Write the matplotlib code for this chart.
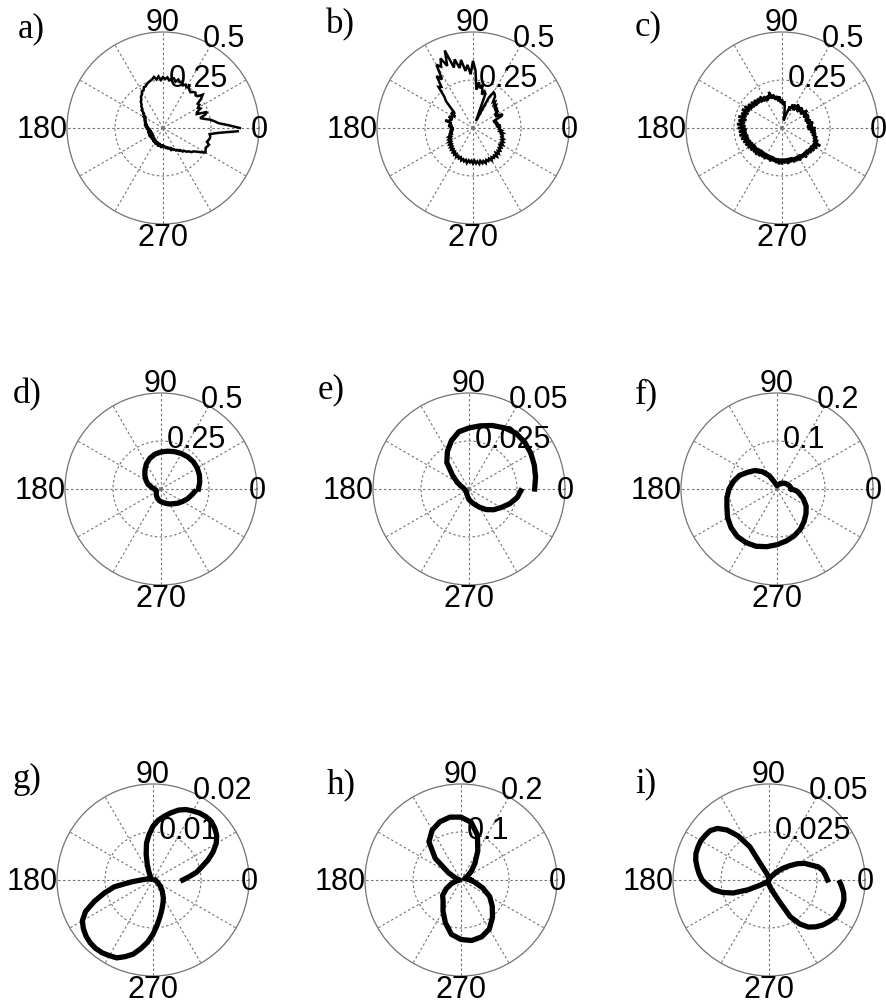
import matplotlib.pyplot as plt
import numpy as np

# Radial response of the nine cases, angles in degrees
theta_fine = np.arange(0, 360, 2.5)

r_a = [0.40, 0.34, 0.29, 0.27, 0.25, 0.22, 0.20, 0.23, 0.245, 0.19, 0.195, 0.22,
       0.21, 0.225, 0.22, 0.25, 0.27, 0.245, 0.24, 0.25, 0.245, 0.235, 0.24, 0.25,
       0.245, 0.255, 0.245, 0.26, 0.255, 0.265, 0.25, 0.265, 0.26, 0.25, 0.265, 0.255,
       0.265, 0.25, 0.27, 0.255, 0.27, 0.26, 0.255, 0.25, 0.245, 0.235, 0.235, 0.22,
       0.22, 0.205, 0.20, 0.185, 0.18, 0.165, 0.16, 0.145, 0.145, 0.125, 0.125, 0.11,
       0.115, 0.10, 0.11, 0.095, 0.105, 0.09, 0.10, 0.085, 0.10, 0.08, 0.095, 0.075,
       0.09, 0.07, 0.085, 0.065, 0.08, 0.065, 0.085, 0.06, 0.08, 0.06, 0.085, 0.06,
       0.08, 0.065, 0.085, 0.06, 0.08, 0.065, 0.085, 0.065, 0.085, 0.07, 0.09, 0.07,
       0.09, 0.075, 0.095, 0.075, 0.095, 0.08, 0.10, 0.08, 0.10, 0.085, 0.105, 0.085,
       0.10, 0.09, 0.105, 0.095, 0.11, 0.10, 0.115, 0.105, 0.12, 0.115, 0.125, 0.125,
       0.135, 0.135, 0.145, 0.145, 0.16, 0.16, 0.175, 0.18, 0.195, 0.20, 0.215, 0.235,
       0.255, 0.25, 0.245, 0.25, 0.255, 0.24, 0.245, 0.25, 0.25, 0.245, 0.29, 0.39]

r_b = [0.14, 0.13, 0.145, 0.12, 0.135, 0.115, 0.13, 0.11, 0.125, 0.16, 0.17, 0.13,
       0.15, 0.14, 0.16, 0.145, 0.165, 0.15, 0.17, 0.16, 0.18, 0.17, 0.20, 0.21,
       0.215, 0.18, 0.06, 0.04, 0.19, 0.20, 0.18, 0.23, 0.21, 0.24, 0.20, 0.30,
       0.35, 0.28, 0.33, 0.30, 0.36, 0.32, 0.37, 0.33, 0.43, 0.35, 0.40, 0.36,
       0.38, 0.30, 0.33, 0.27, 0.28, 0.22, 0.20, 0.16, 0.13, 0.12, 0.14, 0.11,
       0.13, 0.12, 0.14, 0.115, 0.13, 0.12, 0.15, 0.115, 0.125, 0.11, 0.13, 0.105,
       0.12, 0.10, 0.12, 0.105, 0.125, 0.11, 0.13, 0.12, 0.135, 0.125, 0.14, 0.13,
       0.145, 0.135, 0.15, 0.14, 0.155, 0.145, 0.16, 0.15, 0.165, 0.155, 0.17, 0.16,
       0.175, 0.165, 0.175, 0.165, 0.18, 0.17, 0.18, 0.17, 0.185, 0.17, 0.18, 0.17,
       0.185, 0.17, 0.185, 0.175, 0.19, 0.175, 0.19, 0.18, 0.195, 0.18, 0.19, 0.18,
       0.195, 0.18, 0.19, 0.18, 0.195, 0.175, 0.19, 0.175, 0.185, 0.17, 0.18, 0.165,
       0.18, 0.165, 0.175, 0.16, 0.17, 0.155, 0.16, 0.15, 0.16, 0.14, 0.15, 0.135]

r_c = [0.17, 0.13, 0.16, 0.135, 0.165, 0.13, 0.155, 0.125, 0.15, 0.13, 0.155, 0.125,
       0.15, 0.13, 0.16, 0.12, 0.145, 0.125, 0.15, 0.115, 0.145, 0.12, 0.15, 0.11,
       0.14, 0.115, 0.135, 0.10, 0.12, 0.08, 0.06, 0.04, 0.07, 0.11, 0.14, 0.12,
       0.15, 0.13, 0.165, 0.14, 0.17, 0.15, 0.18, 0.16, 0.20, 0.165, 0.185, 0.16,
       0.19, 0.165, 0.20, 0.17, 0.20, 0.175, 0.205, 0.175, 0.21, 0.18, 0.215, 0.185,
       0.225, 0.19, 0.23, 0.19, 0.225, 0.195, 0.235, 0.19, 0.23, 0.195, 0.235, 0.19,
       0.23, 0.185, 0.225, 0.185, 0.225, 0.18, 0.22, 0.18, 0.215, 0.175, 0.21, 0.17,
       0.205, 0.165, 0.20, 0.165, 0.195, 0.16, 0.195, 0.155, 0.19, 0.155, 0.185, 0.155,
       0.185, 0.155, 0.18, 0.155, 0.185, 0.155, 0.18, 0.16, 0.185, 0.16, 0.19, 0.16,
       0.19, 0.16, 0.185, 0.16, 0.19, 0.16, 0.185, 0.16, 0.19, 0.165, 0.19, 0.165,
       0.195, 0.165, 0.19, 0.17, 0.20, 0.17, 0.195, 0.17, 0.20, 0.175, 0.205, 0.175,
       0.21, 0.18, 0.22, 0.175, 0.20, 0.17, 0.19, 0.16, 0.18, 0.15, 0.175, 0.14]

theta_d = [0, 10, 20, 30, 40, 50, 60, 70, 80, 90, 100, 110, 120, 130, 140, 150, 160,
           170, 180, 190, 200, 210, 220, 230, 240, 250, 260, 270, 280, 290, 300, 310,
           320, 330, 340, 350, 355]
r_d = [0.195, 0.205, 0.213, 0.218, 0.22, 0.218, 0.213, 0.207, 0.20, 0.193, 0.184,
       0.17, 0.152, 0.13, 0.11, 0.09, 0.072, 0.05, 0.035, 0.028, 0.026, 0.028, 0.032,
       0.038, 0.045, 0.052, 0.06, 0.066, 0.072, 0.08, 0.09, 0.10, 0.115, 0.13, 0.148,
       0.165, 0.175]

theta_e = [0, 10, 20, 30, 40, 50, 60, 70, 80, 90, 100, 110, 120, 130, 140, 150, 160,
           170, 180, 200, 220, 240, 260, 270, 280, 290, 300, 310, 320, 330, 340, 350, 358]
r_e = [0.0342, 0.0352, 0.0362, 0.0372, 0.0379, 0.038, 0.0368, 0.0352, 0.0334, 0.0318,
       0.0303, 0.0268, 0.0225, 0.018, 0.0112, 0.0072, 0.0045, 0.003, 0.0025, 0.002,
       0.002, 0.0025, 0.004, 0.0055, 0.0068, 0.0085, 0.011, 0.014, 0.0168, 0.0193,
       0.0225, 0.0255, 0.027]

theta_f = [0, 10, 20, 30, 40, 50, 60, 70, 80, 90, 100, 110, 120, 130, 140, 150, 160,
           170, 180, 190, 200, 210, 220, 230, 240, 250, 260, 270, 280, 290, 300, 310,
           320, 330, 340, 350, 355, 360]
r_f = [0.03, 0.028, 0.025, 0.022, 0.019, 0.016, 0.013, 0.01, 0.008, 0.007, 0.009,
       0.015, 0.032, 0.047, 0.06, 0.07, 0.083, 0.092, 0.10, 0.106, 0.111, 0.119, 0.125,
       0.129, 0.129, 0.127, 0.122, 0.116, 0.11, 0.104, 0.097, 0.088, 0.079, 0.07,
       0.058, 0.046, 0.04, 0.03]

theta_g = [0, 5, 10, 15, 20, 25, 30, 35, 40, 45, 50, 55, 60, 65, 70, 75, 80, 85, 90,
           95, 100, 105, 110, 115, 120, 130, 140, 150, 160, 170, 180, 185, 190, 195,
           200, 205, 210, 215, 220, 225, 230, 235, 240, 245, 250, 255, 260, 265, 270,
           275, 280, 285, 290, 295, 300, 310, 320, 330, 340, 350, 359]
r_g = [0.0062, 0.0075, 0.0092, 0.0105, 0.0122, 0.0138, 0.0152, 0.0162, 0.0168, 0.0172,
       0.0172, 0.017, 0.0166, 0.0162, 0.0155, 0.0145, 0.0135, 0.0125, 0.0112, 0.0095,
       0.0078, 0.0055, 0.0035, 0.0022, 0.0014, 0.0008, 0.0004, 0.0003, 0.0005, 0.0012,
       0.0025, 0.0045, 0.0082, 0.0105, 0.013, 0.0155, 0.017, 0.0177, 0.0182, 0.0185,
       0.0186, 0.0185, 0.0182, 0.0179, 0.017, 0.016, 0.0145, 0.013, 0.0113, 0.0095,
       0.008, 0.0068, 0.0058, 0.005, 0.0043, 0.003, 0.002, 0.0012, 0.0008, 0.0006,
       0.0005]

theta_h = [0, 10, 20, 30, 40, 50, 60, 70, 80, 90, 100, 110, 120, 130, 140, 150, 160,
           170, 180, 190, 200, 210, 220, 230, 240, 250, 260, 270, 280, 290, 300, 310,
           320, 330, 340, 350, 360]
r_h = [0.02, 0.012, 0.008, 0.015, 0.028, 0.045, 0.07, 0.10, 0.122, 0.131, 0.133,
       0.129, 0.12, 0.104, 0.07, 0.03, 0.012, 0.005, 0.003, 0.008, 0.02, 0.035, 0.05,
       0.058, 0.075, 0.095, 0.115, 0.124, 0.128, 0.126, 0.118, 0.102, 0.085, 0.069,
       0.048, 0.03, 0.02]

theta_i = [0, 5, 10, 15, 20, 25, 30, 35, 40, 45, 50, 60, 70, 80, 90, 100, 110, 115,
           118, 120, 125, 130, 135, 140, 145, 150, 155, 160, 165, 170, 175, 180, 185,
           190, 195, 200, 205, 210, 220, 230, 240, 250, 260, 270, 280, 290, 295, 300,
           305, 310, 315, 320, 325, 330, 335, 340, 345, 350, 355, 358]
r_i = [0.0305, 0.0295, 0.0285, 0.0265, 0.023, 0.0205, 0.017, 0.0128, 0.0095, 0.0065,
       0.004, 0.0015, 0.0005, 0.0003, 0.0005, 0.0015, 0.004, 0.006, 0.01, 0.02, 0.028,
       0.034, 0.038, 0.04, 0.0405, 0.041, 0.0408, 0.0405, 0.0395, 0.038, 0.0365,
       0.0348, 0.032, 0.0294, 0.025, 0.0198, 0.012, 0.0055, 0.002, 0.0008, 0.0005,
       0.0008, 0.0015, 0.0025, 0.004, 0.0075, 0.0115, 0.022, 0.028, 0.032, 0.0345,
       0.0365, 0.038, 0.0395, 0.04, 0.0405, 0.0404, 0.0395, 0.038, 0.037]

panel_names = ["a)", "b)", "c)", "d)", "e)", "f)", "g)", "h)", "i)"]
panel_theta = [theta_fine, theta_fine, theta_fine, theta_d, theta_e, theta_f,
               theta_g, theta_h, theta_i]
panel_r = [r_a, r_b, r_c, r_d, r_e, r_f, r_g, r_h, r_i]
r_max = [0.5, 0.5, 0.5, 0.5, 0.05, 0.2, 0.02, 0.2, 0.05]
r_tick_labels = [("0.25", "0.5"), ("0.25", "0.5"), ("0.25", "0.5"),
                 ("0.25", "0.5"), ("0.025", "0.05"), ("0.1", "0.2"),
                 ("0.01", "0.02"), ("0.1", "0.2"), ("0.025", "0.05")]

W, H = 887, 1006
R = 96
centers = [(163, 128), (473, 128), (782, 128),
           (161, 489), (469, 489), (777, 489),
           (153, 880), (461, 880), (769, 880)]
letter_pos = [(18, 37), (326, 33), (635, 35),
              (13, 403), (318, 398), (635, 403),
              (13, 788), (327, 793), (635, 792)]

fig = plt.figure(figsize=(W / 100, H / 100), dpi=100)
fig.patch.set_facecolor("white")


def fxy(x, y):
    return x / W, 1 - y / H


sans = "Liberation Sans"
fs = 22
grid_kw = dict(color="0.45", lw=0.8, linestyle=(0, (2.2, 2.2)))

for k in range(9):
    cx, cy = centers[k]
    rm = r_max[k]
    ax = fig.add_axes([(cx - R) / W, 1 - (cy + R) / H, 2 * R / W, 2 * R / H],
                      projection="polar")
    ax.set_ylim(0, rm)
    ax.set_thetagrids(range(0, 360, 30), labels=[])
    ax.set_rgrids([rm / 2, rm], labels=[])
    ax.grid(True, **grid_kw)
    ax.yaxis.get_gridlines()[-1].set_visible(False)
    ax.spines["polar"].set_color("0.45")
    ax.spines["polar"].set_linewidth(0.9)
    ax.tick_params(length=0)

    lw = 1.8 if k < 3 else 3.8
    ax.plot(np.deg2rad(panel_theta[k]), panel_r[k], color="black", lw=lw,
            solid_joinstyle="miter" if k < 3 else "round", clip_on=False)

    # angle labels around the rim
    fig.text(*fxy(cx, cy - R - 1), "90", ha="center", va="baseline",
             fontsize=fs, family=sans)
    fig.text(*fxy(cx, cy + R - 1), "270", ha="center", va="top",
             fontsize=fs, family=sans)
    fig.text(*fxy(cx - R + 1, cy + 10), "180", ha="right", va="baseline",
             fontsize=fs, family=sans)
    fig.text(*fxy(cx + R - 8, cy + 10), "0", ha="left", va="baseline",
             fontsize=fs, family=sans)

    # radial scale labels
    inner, outer = r_tick_labels[k]
    fig.text(*fxy(cx + 6, cy - 41), inner, ha="left", va="baseline",
             fontsize=fs, family=sans)
    fig.text(*fxy(cx + 40, cy - 81), outer, ha="left", va="baseline",
             fontsize=fs, family=sans)

    lx, ly = letter_pos[k]
    fig.text(*fxy(lx, ly), panel_names[k], ha="left", va="baseline",
             fontsize=25, family="Liberation Serif")

fig.savefig("out.png", dpi=100, facecolor="white")
